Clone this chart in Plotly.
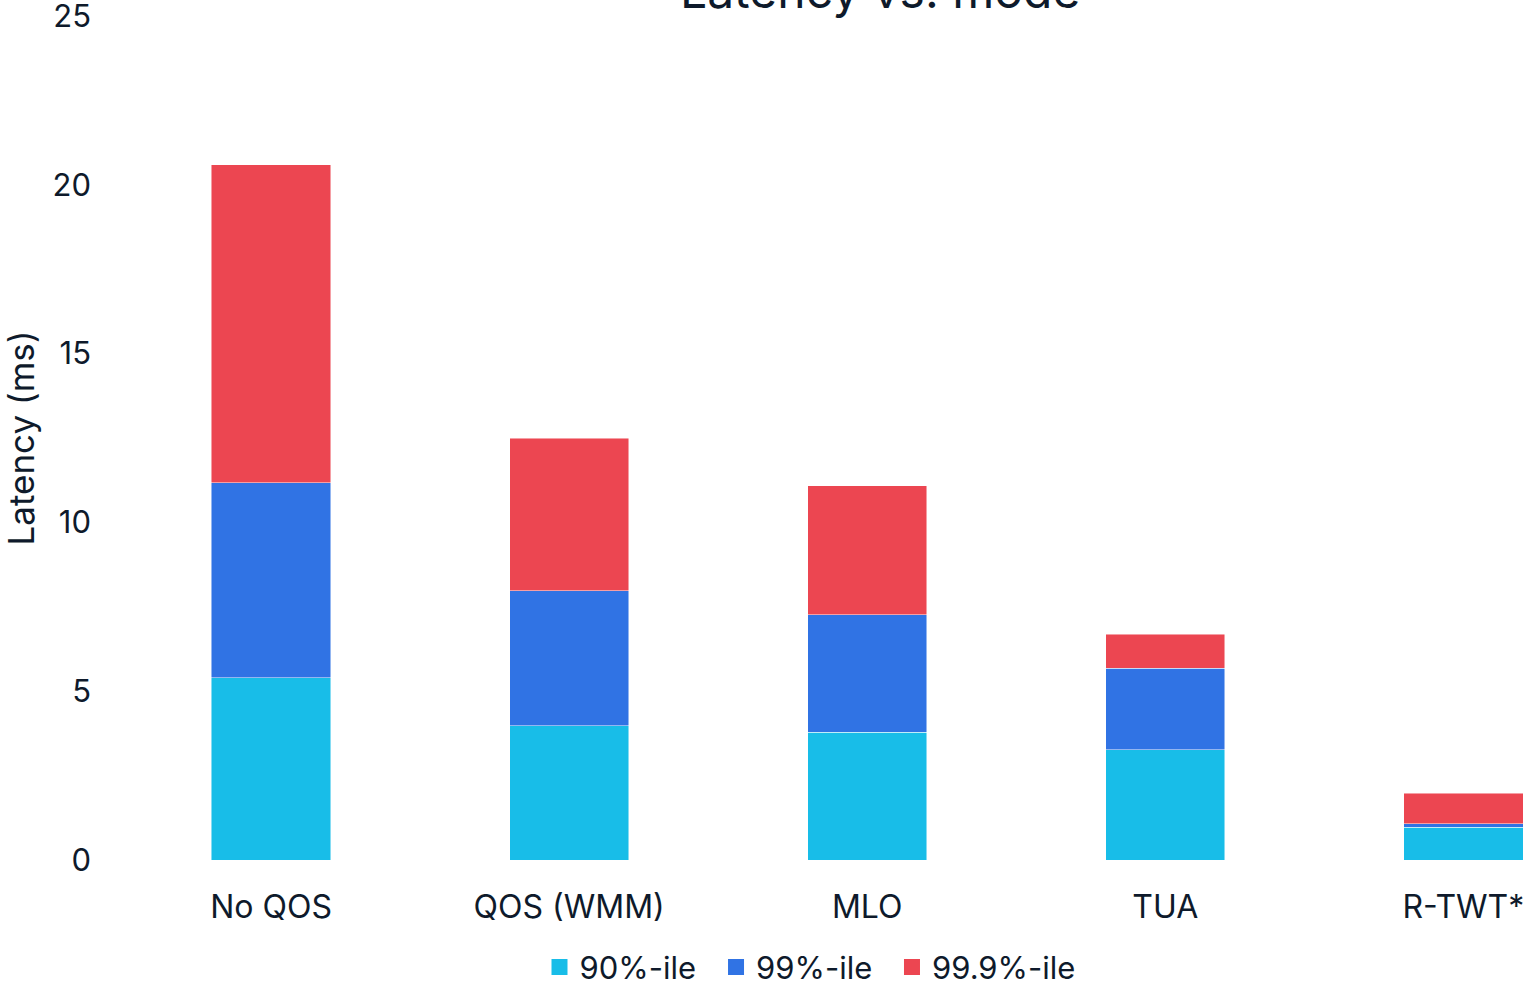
import plotly.graph_objects as go

# Latency by transmission mode, stacked by percentile band
modes = ["No QOS", "QOS (WMM)", "MLO", "TUA", "R-TWT*"]
p90 = [5.40, 3.97, 3.78, 3.26, 0.97]
p99_extra = [5.78, 4.00, 3.49, 2.42, 0.11]
p999_extra = [9.42, 4.52, 3.81, 1.01, 0.90]
series_names = ["90%-ile", "99%-ile", "99.9%-ile"]
series_colors = ["#18BDE8", "#3073E4", "#EC4651"]
y_ticks = [0, 5, 10, 15, 20, 25]

TEXT = "#0e1a2b"
FONT = "Inter"

# one single-entry legend per series so the entries can be spaced evenly
legend_ids = ["legend", "legend2", "legend3"]
legend_x = [0.298, 0.424, 0.5496]

fig = go.Figure()
for name, vals, color, lg in zip(series_names, [p90, p99_extra, p999_extra], series_colors, legend_ids):
    fig.add_trace(go.Bar(
        x=modes, y=vals, name=name, legendgroup=name, showlegend=False,
        marker=dict(color=color, line=dict(color="rgba(255,255,255,0.6)", width=0.8)),
        width=0.4,
    ))
    # square legend swatch
    fig.add_trace(go.Scatter(
        x=[None], y=[None], mode="markers", name=name, legendgroup=name, legend=lg,
        marker=dict(symbol="square", size=16, color=color),
    ))

legend_style = dict(
    orientation="h", xanchor="left", y=-0.0953, yanchor="top",
    font=dict(family=FONT, size=31, color=TEXT), itemsizing="trace",
    itemwidth=30, bgcolor="rgba(0,0,0,0)",
)

fig.update_layout(
    width=1527, height=983,
    margin=dict(l=122, r=4, t=16, b=123, autoexpand=False),
    paper_bgcolor="white", plot_bgcolor="white",
    barmode="stack",
    font=dict(family=FONT, size=32, color=TEXT),
    showlegend=True,
    legend=dict(x=legend_x[0], **legend_style),
    legend2=dict(x=legend_x[1], **legend_style),
    legend3=dict(x=legend_x[2], **legend_style),
    xaxis=dict(
        type="category", range=[-0.5, 4.2], showgrid=False, showline=False,
        zeroline=False, ticks="", ticklabelstandoff=25, automargin=False,
        tickfont=dict(family=FONT, size=32, color=TEXT),
    ),
    yaxis=dict(
        range=[0, 25], tickvals=y_ticks, showgrid=False, showline=False,
        zeroline=False, ticks="", ticklabelstandoff=30, automargin=False,
        ticklabeloverflow="allow",
        tickfont=dict(family=FONT, size=31, color=TEXT),
        title=dict(text="Latency (ms)", font=dict(family=FONT, size=35, color=TEXT), standoff=8),
    ),
    annotations=[dict(
        text="Latency vs. mode", xref="paper", yref="paper",
        x=0.541, y=1.03, xanchor="center", yanchor="middle", showarrow=False,
        font=dict(family=FONT, size=48, color=TEXT),
    )],
)

fig.write_html("out.html")
